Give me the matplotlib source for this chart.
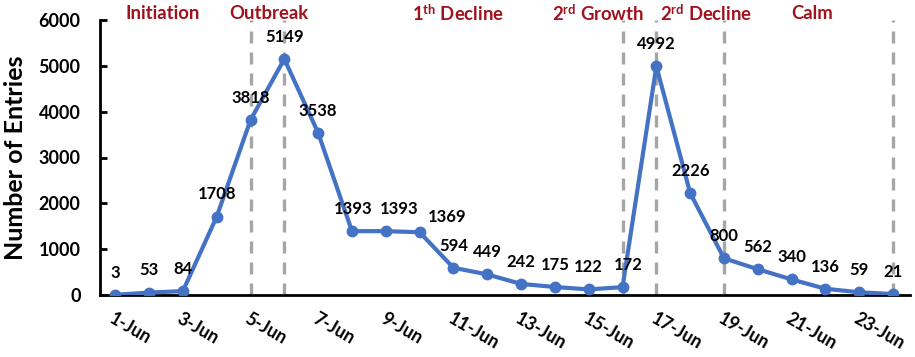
import matplotlib
matplotlib.use("Agg")
import matplotlib.pyplot as plt
from matplotlib.transforms import ScaledTranslation

# ---- data ----
dates = ['1-Jun', '2-Jun', '3-Jun', '4-Jun', '5-Jun', '6-Jun', '7-Jun', '8-Jun',
         '9-Jun', '10-Jun', '11-Jun', '12-Jun', '13-Jun', '14-Jun', '15-Jun', '16-Jun',
         '17-Jun', '18-Jun', '19-Jun', '20-Jun', '21-Jun', '22-Jun', '23-Jun', '24-Jun']
entries = [3, 53, 84, 1708, 3818, 5149, 3538, 1393, 1393, 1369, 594, 449,
           242, 175, 122, 172, 4992, 2226, 800, 562, 340, 136, 59, 21]
tick_labels = ['1-Jun', '3-Jun', '5-Jun', '7-Jun', '9-Jun', '11-Jun',
               '13-Jun', '15-Jun', '17-Jun', '19-Jun', '21-Jun', '23-Jun']
boundary_dates = ['5-Jun', '6-Jun', '16-Jun', '17-Jun', '19-Jun', '24-Jun']
phase_names = ['Initiation', 'Outbreak', r'1$^{\mathbf{th}}$ Decline',
               r'2$^{\mathbf{rd}}$ Growth', r'2$^{\mathbf{rd}}$ Decline', 'Calm']
y_ticks = [0, 1000, 2000, 3000, 4000, 5000, 6000]

# ---- style ----
FONT = 'Lato'
plt.rcParams['font.family'] = [FONT, 'DejaVu Sans']
plt.rcParams['mathtext.fontset'] = 'custom'
plt.rcParams['mathtext.rm'] = FONT
plt.rcParams['mathtext.bf'] = FONT + ':bold'
plt.rcParams['mathtext.it'] = FONT + ':italic'

BLUE = '#4472C4'
RED = '#A0121E'
GRAY = '#A6A6A6'

fig = plt.figure(figsize=(9.15, 3.57), dpi=100)
ax = fig.add_axes([100 / 915, 62 / 357, 810 / 915, 275 / 357])

x = list(range(len(dates)))
idx = {d: i for i, d in enumerate(dates)}

for d in boundary_dates:
    ax.axvline(idx[d], color=GRAY, lw=2.4, linestyle=(0, (3.6, 2.7)), zorder=1)

ax.plot(x, entries, color=BLUE, lw=3, marker='o', markersize=7.5,
        markerfacecolor=BLUE, markeredgecolor=BLUE, zorder=3)

x_shift = {7: 1, 8: 10, 9: 20, 15: 4}
y_shift = {9: 11}
for i, v in enumerate(entries):
    ax.annotate(str(v), (i, v), xytext=(x_shift.get(i, 0), y_shift.get(i, 16)),
                textcoords='offset points', ha='center', va='center',
                fontsize=12, fontweight='bold', color='black', zorder=4)

ax.set_xlim(-0.45, len(dates) - 0.5)
ax.set_ylim(0, 6000)
ax.set_yticks(y_ticks)
ax.set_yticklabels([str(t) for t in y_ticks])
ax.set_xticks([idx[t] for t in tick_labels])
ax.set_xticklabels(tick_labels, rotation=-30, ha='left', va='top',
                   rotation_mode='anchor')

shift = ScaledTranslation(6 / 100, 0, fig.dpi_scale_trans)
for lab in ax.get_xticklabels():
    lab.set_fontweight('bold')
    lab.set_fontsize(13)
    lab.set_transform(lab.get_transform() + shift)
for lab in ax.get_yticklabels():
    lab.set_fontweight('bold')
    lab.set_fontsize(13)

ax.tick_params(axis='y', direction='in', length=5, width=2, pad=14)
ax.tick_params(axis='x', length=0, pad=11)

for s in ['top', 'right']:
    ax.spines[s].set_visible(False)
for s in ['left', 'bottom']:
    ax.spines[s].set_linewidth(2)
    ax.spines[s].set_color('black')

ax.set_ylabel('Number of Entries', fontsize=18, fontweight='bold')
ax.yaxis.set_label_coords(-0.09, 0.5)

phase_x = [1.39, 4.55, 10.14, 14.28, 17.47, 20.6]
for name, px in zip(phase_names, phase_x):
    ax.text(px, 1.025, name, transform=ax.get_xaxis_transform(),
            ha='center', va='center', fontsize=13.3, fontweight='bold',
            color=RED, clip_on=False)

fig.savefig('out.png', dpi=100)
